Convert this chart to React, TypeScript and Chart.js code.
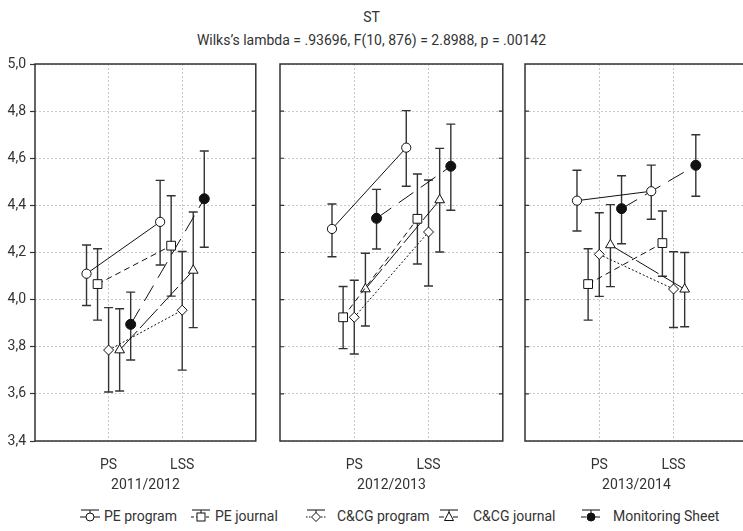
import React, { useEffect, useRef } from 'react';
import { Chart, registerables } from 'chart.js';

Chart.register(...registerables);

// ---------- data ----------
const categories = ['PS', 'LSS'];
const years = ['2011/2012', '2012/2013', '2013/2014'];
const seriesNames = ['PE program', 'PE journal', 'C&CG program', 'C&CG journal', 'Monitoring Sheet'];
const yTickValues = [3.4, 3.6, 3.8, 4.0, 4.2, 4.4, 4.6, 4.8, 5.0];
const mainTitle = 'ST';
const subTitle = 'Wilks\u2019s lambda = .93696, F(10, 876) = 2.8988, p = .00142';

// means per year: [PS, LSS]
const peProgramMean = [[4.11, 4.33], [4.30, 4.645], [4.42, 4.46]];
const peProgramLow = [[3.975, 4.147], [4.182, 4.481], [4.291, 4.341]];
const peProgramHigh = [[4.232, 4.506], [4.406, 4.802], [4.549, 4.571]];

const peJournalMean = [[4.066, 4.229], [3.925, 4.343], [4.066, 4.24]];
const peJournalLow = [[3.913, 4.015], [3.792, 4.151], [3.913, 4.099]];
const peJournalHigh = [[4.216, 4.441], [4.056, 4.533], [4.216, 4.376]];

const ccgProgramMean = [[3.786, 3.955], [3.925, 4.287], [4.192, 4.045]];
const ccgProgramLow = [[3.608, 3.701], [3.769, 4.058], [4.014, 3.882]];
const ccgProgramHigh = [[3.966, 4.204], [4.082, 4.508], [4.369, 4.203]];

const ccgJournalMean = [[3.786, 4.124], [4.045, 4.423], [4.232, 4.044]];
const ccgJournalLow = [[3.612, 3.881], [3.888, 4.202], [4.055, 3.885]];
const ccgJournalHigh = [[3.961, 4.372], [4.197, 4.642], [4.403, 4.2]];

const monitoringMean = [[3.895, 4.428], [4.345, 4.566], [4.386, 4.57]];
const monitoringLow = [[3.744, 4.222], [4.215, 4.379], [4.237, 4.439]];
const monitoringHigh = [[4.032, 4.631], [4.468, 4.745], [4.526, 4.7]];

const seriesMeans = [peProgramMean, peJournalMean, ccgProgramMean, ccgJournalMean, monitoringMean];
const seriesLows = [peProgramLow, peJournalLow, ccgProgramLow, ccgJournalLow, monitoringLow];
const seriesHighs = [peProgramHigh, peJournalHigh, ccgProgramHigh, ccgJournalHigh, monitoringHigh];

// ---------- styles ----------
const FONT = 'Roboto, "Liberation Sans Narrow", sans-serif';
const TEXT = '#333';
const dodge = [-0.3, -0.15, 0, 0.15, 0.3];
const pointStyles = ['circle', 'rect', 'rectRot', 'triangle', 'circle'];
const pointRadii = [4.6, 6.2, 5, 5.6, 5];
const pointFills = ['#fff', '#fff', '#fff', '#fff', '#111'];
const lineDashes: number[][] = [[], [6, 4], [2, 2], [26, 4], [18, 9]];

const errorBarPlugin = {
  id: 'errorBars',
  beforeDatasetsDraw(chart: any, _a: any, opts: any) {
    const { ctx, scales } = chart;
    const yi = opts.year;
    ctx.save();
    ctx.strokeStyle = '#333';
    ctx.lineWidth = 1.4;
    ctx.setLineDash([]);
    seriesMeans.forEach((_m, si) => {
      categories.forEach((_c, ci) => {
        const x = scales.x.getPixelForValue(ci + 1 + dodge[si]);
        const y1 = scales.y.getPixelForValue(seriesLows[si][yi][ci]);
        const y2 = scales.y.getPixelForValue(seriesHighs[si][yi][ci]);
        ctx.beginPath();
        ctx.moveTo(x, y1);
        ctx.lineTo(x, y2);
        ctx.moveTo(x - 4.5, y1);
        ctx.lineTo(x + 4.5, y1);
        ctx.moveTo(x - 4.5, y2);
        ctx.lineTo(x + 4.5, y2);
        ctx.stroke();
      });
    });
    ctx.restore();
  },
};

const framePlugin = {
  id: 'frame',
  afterDraw(chart: any, _a: any, opts: any) {
    const { ctx, chartArea, scales } = chart;
    const { left, right, top, bottom } = chartArea;
    ctx.save();
    ctx.strokeStyle = '#333';
    ctx.lineWidth = 1.5;
    ctx.setLineDash([]);
    ctx.strokeRect(left, top, right - left, bottom - top);
    ctx.lineWidth = 1.2;
    ctx.beginPath();
    yTickValues.slice(1, -1).forEach((v) => {
      const y = scales.y.getPixelForValue(v);
      ctx.moveTo(right, y);
      ctx.lineTo(right - 4, y);
      if (!opts.leftLabels) {
        ctx.moveTo(left, y);
        ctx.lineTo(left + 4, y);
      }
    });
    ctx.stroke();
    ctx.restore();
  },
};

function Panel({ yi, left, width, yAxisWidth, padLeft, padRight }: any) {
  const ref = useRef<HTMLCanvasElement>(null);
  useEffect(() => {
    const showY = yAxisWidth > 0;
    const datasets = seriesNames.map((name, si) => ({
      label: name,
      data: categories.map((_c, ci) => ({ x: ci + 1 + dodge[si], y: seriesMeans[si][yi][ci] })),
      borderColor: '#111',
      borderWidth: 1,
      borderDash: lineDashes[si],
      pointStyle: pointStyles[si],
      pointRadius: pointRadii[si],
      pointBackgroundColor: pointFills[si],
      pointBorderColor: '#111',
      pointBorderWidth: 1,
      fill: false,
      tension: 0,
    }));
    const chart = new Chart(ref.current as HTMLCanvasElement, {
      type: 'line',
      data: { datasets },
      plugins: [errorBarPlugin, framePlugin],
      options: {
        animation: false,
        responsive: false,
        devicePixelRatio: 1,
        layout: { padding: { top: 64, bottom: 0, left: padLeft, right: padRight } },
        plugins: {
          legend: { display: false },
          tooltip: { enabled: false },
          errorBars: { year: yi },
          frame: { leftLabels: showY },
        } as any,
        scales: {
          x: {
            type: 'linear',
            min: 0,
            max: 3,
            afterBuildTicks: (s: any) => {
              s.ticks = [{ value: 1 }, { value: 2 }];
            },
            afterFit: (s: any) => {
              s.height = 57;
            },
            ticks: {
              callback: (v: any) => categories[Math.round(v) - 1],
              font: { family: FONT, size: 14 },
              color: TEXT,
              padding: 16,
              autoSkip: false,
              maxRotation: 0,
            },
            grid: { color: '#c8c8c8', lineWidth: 1, drawTicks: false },
            border: { display: false, dash: [2, 2] },
            title: {
              display: true,
              text: years[yi],
              font: { family: FONT, size: 14 },
              color: TEXT,
              padding: { top: 0, bottom: 4 },
            },
          },
          y: {
            min: 3.4,
            max: 5.0,
            afterBuildTicks: (s: any) => {
              s.ticks = yTickValues.map((v) => ({ value: v }));
            },
            afterFit: (s: any) => {
              s.width = yAxisWidth;
            },
            ticks: {
              display: showY,
              callback: (v: any) => Number(v).toFixed(1).replace('.', ','),
              font: { family: FONT, size: 14 },
              color: TEXT,
              padding: 4,
            },
            grid: {
              color: '#c8c8c8',
              lineWidth: 1,
              drawTicks: showY,
              tickLength: 5,
              tickColor: '#333',
              tickWidth: 1.2,
              tickBorderDash: [],
            } as any,
            border: { display: false, dash: [2, 2] },
          },
        },
      } as any,
    });
    return () => chart.destroy();
  }, [yi, yAxisWidth, padLeft, padRight]);
  return (
    <canvas
      ref={ref}
      width={width}
      height={498}
      style={{ position: 'absolute', left, top: 0, width, height: 498, display: 'block' }}
    />
  );
}

function LegendSymbol({ si }: { si: number }) {
  const dash = lineDashes[si].length ? (si === 1 ? '3,2' : si === 2 ? '1.5,1.5' : '5,2') : undefined;
  const cx = 11;
  const cy = 9;
  const r = 4;
  let marker: any;
  const st = pointStyles[si];
  const fill = pointFills[si];
  if (st === 'circle') marker = <circle cx={cx} cy={cy} r={r} fill={fill} stroke="#111" strokeWidth={1} />;
  else if (st === 'rect') marker = <rect x={cx - r} y={cy - r} width={2 * r} height={2 * r} fill={fill} stroke="#111" strokeWidth={1} />;
  else if (st === 'rectRot')
    marker = <polygon points={`${cx},${cy - r - 0.5} ${cx + r + 0.5},${cy} ${cx},${cy + r + 0.5} ${cx - r - 0.5},${cy}`} fill={fill} stroke="#111" strokeWidth={1} />;
  else marker = <polygon points={`${cx},${cy - r - 1} ${cx + r + 0.5},${cy + r - 0.5} ${cx - r - 0.5},${cy + r - 0.5}`} fill={fill} stroke="#111" strokeWidth={1} />;
  return (
    <svg width={22} height={16} style={{ display: 'block' }}>
      <line x1={1} y1={cy} x2={21} y2={cy} stroke="#111" strokeWidth={1} strokeDasharray={dash} />
      <line x1={cx} y1={2} x2={cx} y2={cy + r} stroke="#333" strokeWidth={1.2} />
      <line x1={cx - 9} y1={2} x2={cx + 9} y2={2} stroke="#333" strokeWidth={1.2} />
      {marker}
    </svg>
  );
}

const legendSymbolLeft = [79, 190, 305, 438, 580];
const legendTextLeft = [104, 215, 337, 473, 613];

export default function App() {
  useEffect(() => {
    document.body.style.margin = '0';
  }, []);
  return (
    <div
      style={{
        position: 'absolute',
        left: 0,
        top: 0,
        width: 743,
        height: 531,
        overflow: 'hidden',
        background: '#fff',
        fontFamily: FONT,
        color: TEXT,
      }}
    >
      <div style={{ position: 'absolute', top: 8, left: 0, width: 743, textAlign: 'center', fontSize: 14, lineHeight: '18px' }}>
        {mainTitle}
      </div>
      <div style={{ position: 'absolute', top: 31, left: 0, width: 743, textAlign: 'center', fontSize: 14, lineHeight: '18px' }}>
        {subTitle}
      </div>
      <Panel yi={0} left={0} width={263} yAxisWidth={35} padLeft={0} padRight={2} />
      <Panel yi={1} left={270} width={240} yAxisWidth={0} padLeft={10} padRight={4} />
      <Panel yi={2} left={515} width={240} yAxisWidth={0} padLeft={10} padRight={4} />
      {seriesNames.map((name, si) => (
        <React.Fragment key={name}>
          <div style={{ position: 'absolute', left: legendSymbolLeft[si], top: 508 }}>
            <LegendSymbol si={si} />
          </div>
          <div style={{ position: 'absolute', left: legendTextLeft[si], top: 507, fontSize: 14, lineHeight: '18px', whiteSpace: 'nowrap' }}>
            {name}
          </div>
        </React.Fragment>
      ))}
    </div>
  );
}
